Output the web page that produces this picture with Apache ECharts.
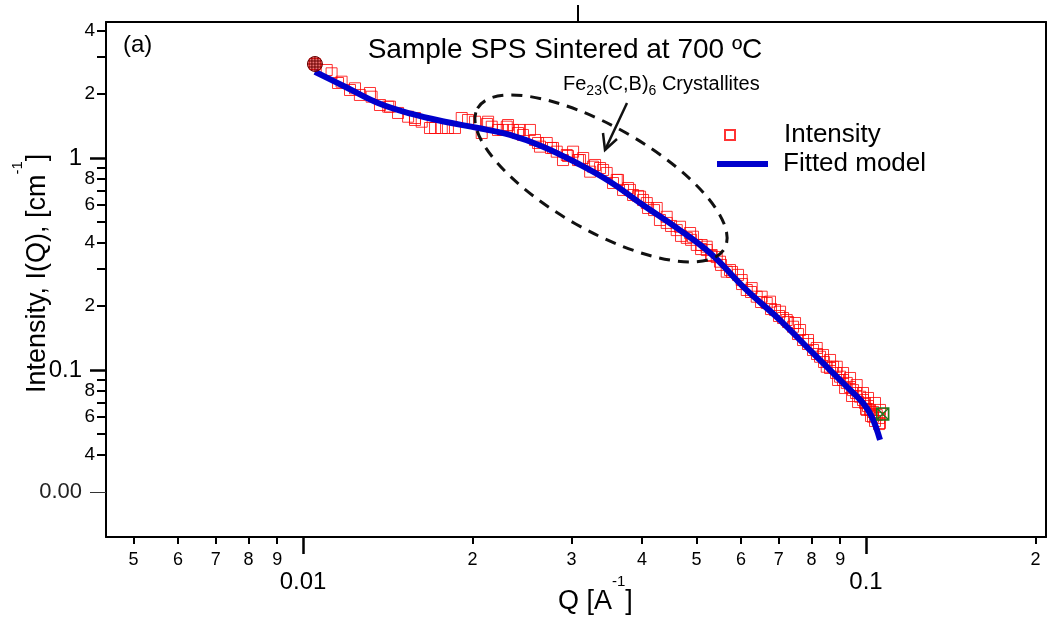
<!DOCTYPE html>
<html>
<head>
<meta charset="utf-8">
<title>Sample SPS Sintered at 700 ºC</title>
<script src="https://cdn.jsdelivr.net/npm/echarts@6/dist/echarts.min.js"></script>
<style>
  html, body { margin: 0; padding: 0; background: #fff; }
  #chart { width: 1050px; height: 619px; }
</style>
</head>
<body>
<div id="chart"></div>
<script>
// measured intensity, Q [1/A] and I(Q) [1/cm]
var intensityQ = [
  0.01050, 0.01102, 0.01154, 0.01212, 0.01262, 0.01315, 0.01370, 0.01427, 0.01475, 0.01537,
  0.01581, 0.01625, 0.01681, 0.01716, 0.01764, 0.01809, 0.01862, 0.01914, 0.01964, 0.02021,
  0.02077, 0.02123, 0.02164, 0.02220, 0.02266, 0.02313, 0.02360, 0.02409, 0.02459, 0.02530,
  0.02583, 0.02636, 0.02710, 0.02758, 0.02823, 0.02896, 0.02956, 0.03018, 0.03080, 0.03145,
  0.03236, 0.03302, 0.03370, 0.03463, 0.03553, 0.03627, 0.03702, 0.03779, 0.03857, 0.03937,
  0.04018, 0.04101, 0.04203, 0.04305, 0.04426, 0.04505, 0.04611, 0.04693, 0.04804, 0.04890,
  0.05005, 0.05094, 0.05214, 0.05306, 0.05431, 0.05527, 0.05657, 0.05781, 0.05925, 0.06023,
  0.06140, 0.06249, 0.06396, 0.06510, 0.06663, 0.06781, 0.06893, 0.07007, 0.07123, 0.07270,
  0.07420, 0.07573, 0.07730, 0.07889, 0.08052, 0.08185, 0.08286, 0.08423, 0.08516, 0.08632,
  0.08739, 0.08847, 0.08920, 0.08993, 0.09104, 0.09179, 0.09243, 0.09368, 0.09445, 0.09484,
  0.09601, 0.09680, 0.09760, 0.09878, 0.09959, 0.10000, 0.10082, 0.10165, 0.10206, 0.10290,
  0.10375, 0.10447, 0.10546, 0.10546, 0.10707,
  // squares lying off the main row
  0.01124, 0.01171, 0.01237, 0.01324, 0.01417, 0.01581,
  0.02132, 0.02301, 0.02428, 0.02615, 0.02780, 0.02941, 0.03105, 0.03273, 0.03412, 0.03608,
  0.03809, 0.03969, 0.04080, 0.04249, 0.04426, 0.04674, 0.04928, 0.05213,
  0.04870, 0.05106, 0.05320, 0.05504, 0.05734, 0.06015, 0.06266, 0.06527, 0.06753, 0.07036,
  0.07231, 0.07481, 0.07636, 0.07889, 0.08175, 0.08388, 0.08632, 0.08873, 0.09104, 0.09368,
  0.09627, 0.09878, 0.10082, 0.10375, 0.10589, 0.10029, 0.10290, 0.10589
];
var intensityI = [
  2.776, 2.601, 2.258, 2.093, 1.983, 2.026, 1.778, 1.746, 1.631, 1.566,
  1.544, 1.483, 1.385, 1.385, 1.385, 1.385, 1.385, 1.544, 1.511, 1.483,
  1.312, 1.447, 1.405, 1.356, 1.356, 1.431, 1.356, 1.312, 1.284, 1.356,
  1.216, 1.131, 1.177, 1.115, 1.071, 0.978, 1.022, 1.071, 0.978, 1.000,
  0.862, 0.927, 0.897, 0.850, 0.762, 0.788, 0.707, 0.722, 0.669, 0.662,
  0.634, 0.581, 0.568, 0.510, 0.494, 0.478, 0.457, 0.429, 0.420, 0.411,
  0.389, 0.372, 0.368, 0.345, 0.341, 0.313, 0.291, 0.290, 0.281, 0.2544,
  0.2384, 0.2333, 0.2217, 0.2093, 0.2070, 0.1939, 0.1919, 0.1798, 0.1759, 0.1684,
  0.1600, 0.1478, 0.1385, 0.1326, 0.1243, 0.1190, 0.1155, 0.1091, 0.1036, 0.1022,
  0.1036, 0.0968, 0.0897, 0.0930, 0.0897, 0.0822, 0.0869, 0.0831, 0.0754, 0.0804,
  0.0779, 0.0706, 0.0748, 0.0722, 0.0699, 0.0655, 0.0676, 0.0648, 0.0607, 0.0634,
  0.0575, 0.0613, 0.0594, 0.0556, 0.0620,
  2.509, 2.291, 2.132, 1.946, 1.746, 1.511,
  1.483, 1.405, 1.356, 1.177, 1.115, 1.033, 0.978, 0.910, 0.878, 0.788,
  0.707, 0.657, 0.613, 0.581, 0.528, 0.474, 0.4253, 0.3816,
  0.4428, 0.3887, 0.3487, 0.3242, 0.2962, 0.2657, 0.2435, 0.2217, 0.2101, 0.1884,
  0.1721, 0.1666, 0.1544, 0.1385, 0.1270, 0.1177, 0.1115, 0.1036, 0.0968, 0.0917,
  0.0849, 0.0779, 0.0738, 0.0699, 0.0648, 0.0648, 0.0602, 0.0562
];
// cursor A (first point) and cursor B (last point)
var cursorQ = [0.01050, 0.10707];
var cursorI = [2.776, 0.0620];

// fitted model
var fitQ = [0.01050, 0.01188, 0.01359, 0.01560, 0.01787, 0.02046, 0.02332, 0.02669, 0.03063, 0.03510,
            0.04017, 0.04611, 0.05284, 0.06139, 0.07035, 0.08052, 0.09242, 0.09879, 0.10240, 0.10590];
var fitI = [2.553, 2.169, 1.817, 1.613, 1.483, 1.385, 1.284, 1.131, 0.947, 0.773,
            0.600, 0.468, 0.356, 0.238, 0.172, 0.120, 0.0834, 0.0699, 0.0602, 0.0468];

// axis ticks (real values, drawn on log10 axes)
var xMinorTicks = [0.005, 0.006, 0.007, 0.008, 0.009, 0.02, 0.03, 0.04, 0.05, 0.06, 0.07, 0.08, 0.09, 0.2];
var xMajorTicks = [0.01, 0.1];
var xMajorLabels = ['0.01', '0.1'];
var xTopTick = [0.0307];
var yMinorTicks = [4, 3, 2, 0.9, 0.8, 0.7, 0.6, 0.5, 0.4, 0.3, 0.2, 0.09, 0.08, 0.07, 0.06, 0.05, 0.04];
var yMinorLabelled = [4, 2, 0.8, 0.6, 0.4, 0.2, 0.08, 0.06, 0.04];
var yMajorTicks = [1, 0.1];
var yMajorLabels = ['1', '0.1'];
var yOddTick = [0.0266];
var yOddLabels = ['0.00'];

var X_MIN = -2.3499, X_MAX = -0.6803;
var Y_MIN = -1.7877, Y_MAX = 0.6415;
var FONT = 'Liberation Sans, Arial, sans-serif';

function lg(v) { return Math.log10(v); }
function digit(v) {
  var p = Math.pow(10, Math.floor(v + 1e-9));
  return String(Math.round(Math.pow(10, v) / p));
}
function pick(ticks, labels) {
  return function (v) {
    for (var i = 0; i < ticks.length; i++) {
      if (Math.abs(lg(ticks[i]) - v) < 1e-6) return labels[i];
    }
    return '';
  };
}

var pointData = intensityQ.map(function (q, i) { return [lg(q), lg(intensityI[i])]; });
var fitData = fitQ.map(function (q, i) { return [lg(q), lg(fitI[i])]; });

var black = '#000';
function xAx(extra) {
  return Object.assign({
    type: 'value', min: X_MIN, max: X_MAX, position: 'bottom',
    splitLine: { show: false },
    axisLine: { show: false, onZero: false },
    axisTick: { show: false },
    axisLabel: { show: false }
  }, extra);
}
function yAx(extra) {
  return Object.assign({
    type: 'value', min: Y_MIN, max: Y_MAX, position: 'left',
    splitLine: { show: false },
    axisLine: { show: false, onZero: false },
    axisTick: { show: false },
    axisLabel: { show: false }
  }, extra);
}
// rich text with a superscript "-1"
function supRich() {
  return {
    m: { fontSize: 27, fontFamily: FONT, lineHeight: 41, verticalAlign: 'bottom', fill: black },
    u: { fontSize: 15, fontFamily: FONT, lineHeight: 15, verticalAlign: 'top', fill: black }
  };
}

var chart = echarts.init(document.getElementById('chart'));
chart.setOption({
  animation: false,
  textStyle: { fontFamily: FONT, color: black },
  grid: { left: 106, right: 4, top: 22, bottom: 82 },
  xAxis: [
    xAx({
      axisLine: { show: true, onZero: false, lineStyle: { color: black, width: 2 } },
      axisTick: { show: true, length: 7, lineStyle: { color: black, width: 2 }, customValues: xMinorTicks.map(lg) },
      axisLabel: { show: true, fontSize: 18, margin: 14, color: black, fontFamily: FONT,
                   customValues: xMinorTicks.map(lg), formatter: digit }
    }),
    xAx({
      axisTick: { show: true, length: 17, lineStyle: { color: black, width: 2.5 }, customValues: xMajorTicks.map(lg) },
      axisLabel: { show: true, fontSize: 24, margin: 33, color: black, fontFamily: FONT,
                   customValues: xMajorTicks.map(lg), formatter: pick(xMajorTicks, xMajorLabels) }
    }),
    xAx({
      position: 'top',
      axisLine: { show: true, onZero: false, lineStyle: { color: black, width: 2 } },
      axisTick: { show: true, length: 17, lineStyle: { color: black, width: 2 }, customValues: xTopTick.map(lg) }
    })
  ],
  yAxis: [
    yAx({
      axisLine: { show: true, onZero: false, lineStyle: { color: black, width: 2 } },
      axisTick: { show: true, length: 9, lineStyle: { color: black, width: 2 }, customValues: yMinorTicks.map(lg) },
      axisLabel: { show: true, fontSize: 19, margin: 11, color: black, fontFamily: FONT,
                   customValues: yMinorLabelled.map(lg), formatter: digit }
    }),
    yAx({
      axisTick: { show: true, length: 16, lineStyle: { color: black, width: 2.5 }, customValues: yMajorTicks.map(lg) },
      axisLabel: { show: true, fontSize: 24, margin: 24, color: black, fontFamily: FONT,
                   customValues: yMajorTicks.map(lg), formatter: pick(yMajorTicks, yMajorLabels) }
    }),
    yAx({
      axisTick: { show: true, length: 16, lineStyle: { color: '#333', width: 1 }, customValues: yOddTick.map(lg) },
      axisLabel: { show: true, fontSize: 22, margin: 24, color: '#222', fontFamily: FONT,
                   customValues: yOddTick.map(lg), formatter: pick(yOddTick, yOddLabels) }
    }),
    yAx({
      position: 'right',
      axisLine: { show: true, onZero: false, lineStyle: { color: black, width: 2 } }
    })
  ],
  legend: [
    {
      data: ['Intensity'], left: 724, top: 122, padding: 0, selectedMode: false,
      itemWidth: 10, itemHeight: 10,
      formatter: '{g|}{name}',
      textStyle: { fontSize: 26, color: black, fontFamily: FONT, rich: { g: { width: 44 } } }
    },
    {
      data: [{ name: 'Fitted model', icon: 'rect' }], left: 717, top: 151, padding: 0, selectedMode: false,
      itemWidth: 51, itemHeight: 6,
      formatter: '{g|}{name}',
      textStyle: { fontSize: 26, color: black, fontFamily: FONT, rich: { g: { width: 10 } } }
    }
  ],
  series: [
    {
      name: 'Intensity',
      type: 'scatter',
      xAxisIndex: 0, yAxisIndex: 0,
      symbol: 'rect', symbolSize: 11,
      itemStyle: { color: 'rgba(255,0,0,0)', borderColor: '#ff0000', borderWidth: 1 },
      data: pointData,
      markPoint: {
        label: { show: false },
        data: [
          {
            coord: [lg(cursorQ[0]), lg(cursorI[0])],
            symbol: 'path://M10,0A10,10,0,1,1,10,20A10,10,0,1,1,10,0Z M10,0L10,20 M0,10L20,10 M6,1L6,19 M14,1L14,19 M1,6L19,6 M1,14L19,14',
            symbolSize: 15,
            itemStyle: { color: 'rgba(220,0,0,0.55)', borderColor: '#6a0000', borderWidth: 1 }
          },
          {
            coord: [lg(cursorQ[1]), lg(cursorI[1])],
            symbol: 'path://M0,0L20,0L20,20L0,20Z M0,20L20,0 M0,0L20,20',
            symbolSize: 12,
            itemStyle: { color: 'rgba(0,0,0,0)', borderColor: '#1d7a1d', borderWidth: 1.5 }
          }
        ]
      }
    },
    {
      name: 'Fitted model',
      type: 'line',
      xAxisIndex: 0, yAxisIndex: 0,
      symbol: 'none', smooth: 0.4,
      itemStyle: { color: '#0000cc' },
      lineStyle: { color: '#0000cc', width: 6 },
      data: fitData
    }
  ],
  graphic: [
    { type: 'text', z: 10, x: 123, y: 45,
      style: { text: '(a)', fontSize: 24, fontFamily: FONT, fill: black, verticalAlign: 'middle' } },
    { type: 'text', z: 10, x: 565, y: 50,
      style: { text: 'Sample SPS Sintered at 700 ºC', fontSize: 28, fontFamily: FONT, fill: black,
               align: 'center', verticalAlign: 'middle' } },
    { type: 'text', z: 10, x: 563, y: 86,
      style: {
        text: '{n|Fe}{s|23}{n|(C,B)}{s|6}{n| Crystallites}', fill: black, verticalAlign: 'middle',
        rich: {
          n: { fontSize: 20, fontFamily: FONT, lineHeight: 24, verticalAlign: 'top', fill: black },
          s: { fontSize: 14, fontFamily: FONT, lineHeight: 14, verticalAlign: 'bottom', fill: black }
        }
      } },
    { type: 'ellipse', z: 10, x: 601, y: 178.5, rotation: -0.517,
      shape: { cx: 0, cy: 0, rx: 142, ry: 52 },
      style: { fill: 'none', stroke: '#111', lineWidth: 3, lineDash: [11, 8] } },
    { type: 'polyline', z: 10, shape: { points: [[627, 103], [605, 150]] },
      style: { stroke: '#111', lineWidth: 2.5, fill: 'none' } },
    { type: 'polyline', z: 10, shape: { points: [[603, 133], [605, 150], [617, 139]] },
      style: { stroke: '#111', lineWidth: 2.5, fill: 'none' } },
    { type: 'text', z: 10, x: 558, y: 595,
      style: { text: '{m|Q [A}{u|-1}{m|]}', fill: black, verticalAlign: 'middle', rich: supRich() } },
    { type: 'text', z: 10, x: 31, y: 393, rotation: Math.PI / 2,
      style: { text: '{m|Intensity, I(Q), [cm}{u|-1}{m|]}', fill: black, verticalAlign: 'middle', rich: supRich() } }
  ]
});
</script>
</body>
</html>
